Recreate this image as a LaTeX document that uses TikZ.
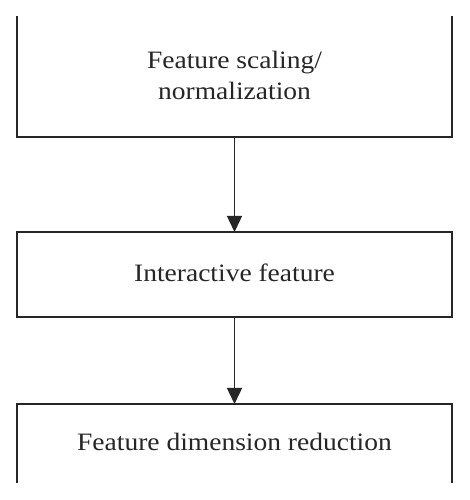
\documentclass[tikz,border=0pt]{standalone}
\usepackage{fontspec}
\setmainfont[FakeStretch=1.1]{Liberation Serif}
\usetikzlibrary{arrows.meta}
\begin{document}
\begin{tikzpicture}[x=1pt,y=1pt,
  box/.style={draw=none,minimum width=435pt,inner sep=0pt,outer sep=0pt},
  edge/.style={line width=1.4pt,draw=black!85},
  txt/.style={font=\fontsize{25}{31}\selectfont,align=center,text=black!85},
  arr/.style={line width=1.4pt,draw=black!85,-{Triangle[width=15pt,length=16pt]}}]
\useasboundingbox (0,0) rectangle (469,500);
% top box (open at top)
\node[box,minimum height=121pt] (b1) at (234.5,{500-76.5}) {};
\draw[edge] (b1.north west) -- (b1.south west) -- (b1.south east) -- (b1.north east);
\node[txt] (t1) at (234.5,{500-75}) {Feature scaling/\\normalization};
% middle box
\node[box,draw,edge,minimum height=85pt] (b2) at (234.5,{500-274.5}) {};
\node[txt] (t2) at (234.5,{500-273}) {Interactive feature};
% bottom box (open at bottom)
\node[box,minimum height=79pt] (b3) at (234.5,{500-443.5}) {};
\draw[edge] (b3.south west) -- (b3.north west) -- (b3.north east) -- (b3.south east);
\node[txt] (t3) at (234.5,{500-442}) {Feature dimension reduction};
% arrows
\draw[arr] (b1.south) -- (b2.north);
\draw[arr] (b2.south) -- (b3.north);
\end{tikzpicture}
\end{document}
